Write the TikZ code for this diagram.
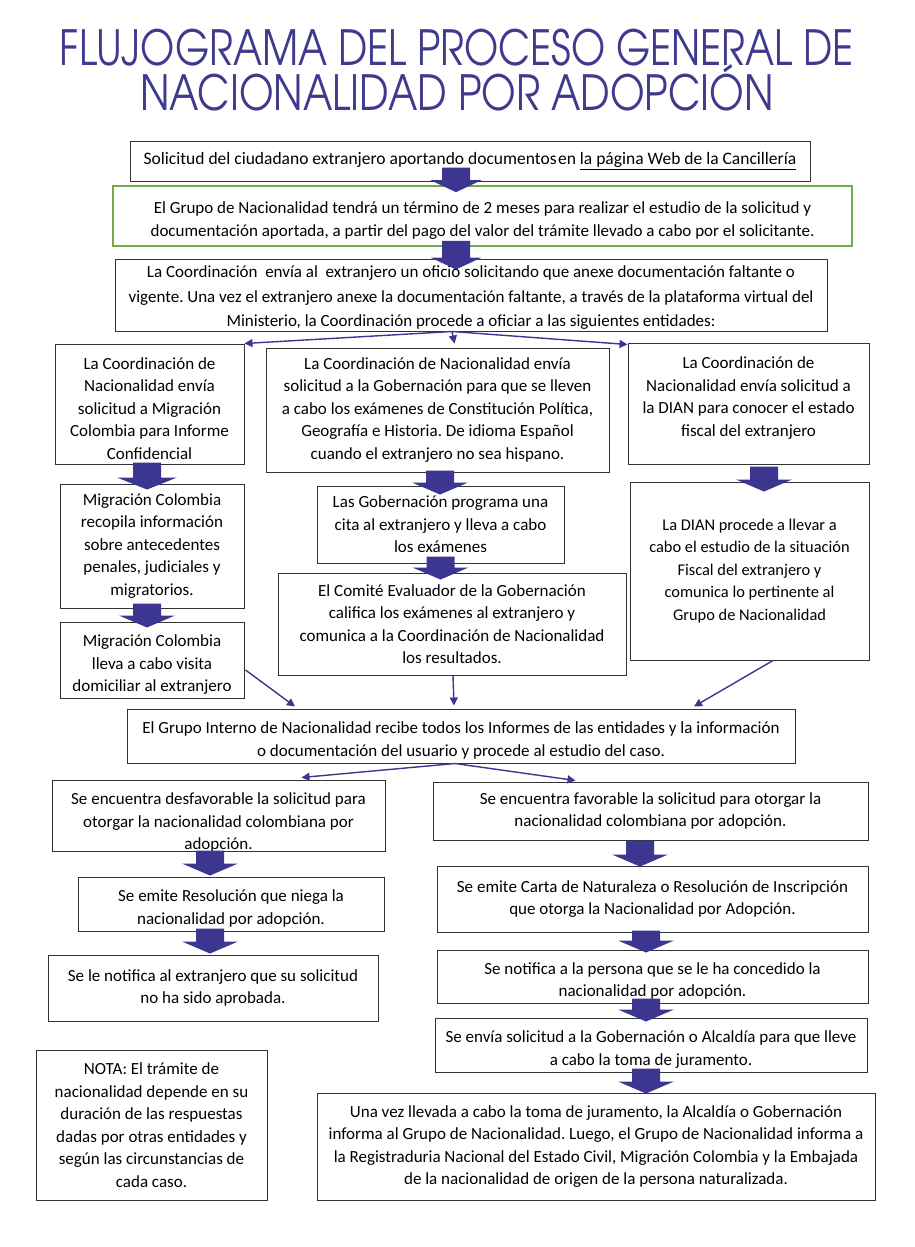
\documentclass[tikz,border=0pt]{standalone}
\usepackage{fontspec}
\setmainfont{Carlito}
\newfontfamily\titlefont{TeX Gyre Adventor}
\usetikzlibrary{arrows.meta,calc}
\frenchspacing
\definecolor{ink}{RGB}{61,54,144}
\definecolor{titlecol}{RGB}{64,58,142}
\definecolor{grn}{RGB}{112,173,71}
\newcommand\bigarr[3][27]{\fill[ink] let \p1=(#2), \p2=(#3) in
  (\x1-14pt,\y1) -- (\x1+14pt,\y1) -- (\x1+14pt,\y2+12pt) -- (\x1+#1pt,\y2+12pt) --
  (\x1,\y2) -- (\x1-#1pt,\y2+12pt) -- (\x1-14pt,\y2+12pt) -- cycle;}
% pushes a node's text down (first-line strut) or up (last-line strut)
\newcommand\dn{\rule{0pt}{21pt}}
\newcommand\up{\rule[-14pt]{0pt}{14pt}}
\begin{document}
\begin{tikzpicture}[x=1pt,y=-1pt,
  box/.style={draw=black!80, line width=1pt, align=center, inner sep=0pt,
    font=\fontsize{17}{22.5}\selectfont},
  txt/.style={align=center, inner sep=0pt, font=\fontsize{17}{22.5}\selectfont},
  thin/.style={draw=ink, line width=1.4pt, -{Triangle[length=8pt,width=8pt]}},
  title/.style={anchor=base, inner sep=0pt, text=titlecol, font=\titlefont\fontsize{48.5}{55}\selectfont}]
\useasboundingbox[fill=white] (0,0) rectangle (915,1247);

\node[title] (t1) at (457,66) {\scalebox{0.81}[1]{FLUJOGRAMA DEL PROCESO GENERAL DE}};
\node[title] (t2) at (457,110) {\scalebox{0.82}[1]{NACIONALIDAD POR ADOPCIÓN}};

\node[box, font=\fontsize{17.5}{22.5}\selectfont, minimum width=680pt, minimum height=40pt] (b1) at (470,161)
  {Solicitud del ciudadano extranjero aportando documentos\hspace{1.5pt}en \underline{la página Web de la Cancillería}};
\node[box, draw=grn, line width=1.6pt, minimum width=739pt, minimum height=60pt] (b2) at (482.5,216)
  {\dn El Grupo de Nacionalidad tendrá un término de 2 meses para realizar el estudio de la solicitud y\\
   documentación aportada, a partir del pago del valor del trámite llevado a cabo por el solicitante.};
\node[box, minimum width=712pt, minimum height=72pt] (b3) at (471,295) {};
\begin{scope}
\clip (b3.south west) rectangle (b3.north east);
\node[txt, font=\fontsize{17}{24.5}\selectfont] (b3t) at ([yshift=-3pt]b3.center)
  {La Coordinación\ \ envía al\ \ extranjero un oficio solicitando que anexe documentación faltante o\\
   vigente. Una vez el extranjero anexe la documentación faltante, a través de la plataforma virtual del\\
   Ministerio, la Coordinación procede a oficiar a las siguientes entidades:};
\end{scope}

\node[box, minimum width=189pt, minimum height=120pt] (bA) at (149.5,404)
  {\dn La Coordinación de\\ Nacionalidad envía\\ solicitud a Migración\\ Colombia para Informe\\ Confidencial};
\node[box, minimum width=343pt, minimum height=124pt] (bB) at (437.5,410)
  {La Coordinación de Nacionalidad envía\\ solicitud a la Gobernación para que se lleven\\ a cabo los exámenes de Constitución Política,\\ Geografía e Historia. De idioma Español\\ cuando el extranjero no sea hispano.};
\node[box, minimum width=241pt, minimum height=121pt] (bC) at (748.5,403.5)
  {La Coordinación de\\ Nacionalidad envía solicitud a\\ la DIAN para conocer el estado\\ fiscal del extranjero\up};

\node[box, minimum width=184pt, minimum height=124pt] (bA2) at (152,546)
  {Migración Colombia\\ recopila información\\ sobre antecedentes\\ penales, judiciales y\\ migratorios.};
\node[box, minimum width=184pt, minimum height=76pt] (bA3) at (152,660)
  {\dn Migración Colombia\\ lleva a cabo visita\\ domiciliar al extranjero};
\node[box, minimum width=247pt, minimum height=77pt] (bB2) at (440.5,524.5)
  {Las Gobernación programa una\\ cita al extranjero y lleva a cabo\\ los exámenes};
\node[box, minimum width=348pt, minimum height=102pt] (bB3) at (452,624)
  {El Comité Evaluador de la Gobernación\\ califica los exámenes al extranjero y\\ comunica a la Coordinación de Nacionalidad\\ los resultados.};
\node[box, font=\fontsize{16.4}{22.5}\selectfont, minimum width=239pt, minimum height=178pt] (bC2) at (749.5,571)
  {La DIAN procede a llevar a\\ cabo el estudio de la situación\\ Fiscal del extranjero y\\ comunica lo pertinente al\\ Grupo de Nacionalidad};

\node[box, minimum width=668pt, minimum height=54pt] (bD) at (461,736)
  {\dn El Grupo Interno de Nacionalidad recibe todos los Informes de las entidades y la información\\ o documentación del usuario y procede al estudio del caso.};

\node[box, minimum width=333pt, minimum height=71pt] (bE) at (218.5,815.5) {};
\begin{scope}
\clip (bE.south west) rectangle (bE.north east);
\node[txt] (bEt) at ([yshift=-7pt]bE.center)
  {Se encuentra desfavorable la solicitud para\\ otorgar la nacionalidad colombiana por\\ adopción.};
\end{scope}
\node[box, minimum width=435pt, minimum height=58pt] (bF) at (650.5,811)
  {Se encuentra favorable la solicitud para otorgar la\\ nacionalidad colombiana por adopción.};

\node[box, minimum width=306pt, minimum height=54pt] (bE2) at (231,904)
  {\dn Se emite Resolución que niega la\\ nacionalidad por adopción.};
\node[box, minimum width=330pt, minimum height=66pt] (bE3) at (213,988)
  {Se le notifica al extranjero que su solicitud\\ no ha sido aprobada.};
\node[box, minimum width=431pt, minimum height=66pt] (bF2) at (652.5,899)
  {Se emite Carta de Naturaleza o Resolución de Inscripción\\ que otorga la Nacionalidad por Adopción.};
\node[box, minimum width=431pt, minimum height=53pt] (bF3) at (652.5,976.5)
  {\dn Se notifica a la persona que se le ha concedido la\\ nacionalidad por adopción.};
\node[box, minimum width=432pt, minimum height=54pt] (bF4) at (651,1045)
  {\dn Se envía solicitud a la Gobernación o Alcaldía para que lleve\\ a cabo la toma de juramento.};
\node[box, minimum width=558pt, minimum height=107pt] (bF5) at (596,1146.5)
  {Una vez llevada a cabo la toma de juramento, la Alcaldía o Gobernación\\ informa al Grupo de Nacionalidad. Luego, el Grupo de Nacionalidad informa a\\ la Registraduria Nacional del Estado Civil, Migración Colombia y la Embajada\\ de la nacionalidad de origen de la persona naturalizada.};
\node[box, minimum width=231pt, minimum height=150pt] (bN) at (151.5,1125)
  {NOTA: El trámite de\\ nacionalidad depende en su\\ duración de las respuestas\\ dadas por otras entidades y\\ según las circunstancias de\\ cada caso.};

% block arrows
\bigarr[25.5]{[xshift=-14pt,yshift=14pt]b1.south}{[yshift=-7pt]b2.north}
\bigarr[25.5]{[xshift=-26.5pt,yshift=6pt]b2.south}{[yshift=-11pt]b3.north}
\bigarr[30]{[xshift=-2.5pt,yshift=2pt]bA.south}{[yshift=-6pt]bA2.north}
\bigarr[28]{[xshift=-5pt,yshift=5pt]bA2.south}{[yshift=-6pt]bA3.north}
\bigarr[28]{[xshift=2.5pt,yshift=2pt]bB.south}{[yshift=-9pt]bB2.north}
\bigarr[28]{[yshift=7pt]bB2.south}{[yshift=-7pt]bB3.north}
\bigarr[28]{[xshift=15.5pt,yshift=-2pt]bC.south}{[yshift=-10pt]bC2.north}
\bigarr[28]{[xshift=-8.5pt,yshift=1pt]bE.south}{[yshift=1pt]bE2.north}
\bigarr[28]{[xshift=-21pt,yshift=3pt]bE2.south}{[yshift=1pt]bE3.north}
\bigarr[28]{[xshift=-10.5pt]bF.south}{[yshift=-1pt]bF2.north}
\bigarr[28]{[xshift=-6.5pt,yshift=2pt]bF2.south}{[yshift=-3pt]bF3.north}
\bigarr[28]{[xshift=-6.5pt,yshift=5pt]bF3.south}{[yshift=-4pt]bF4.north}
\bigarr[28]{[xshift=-5pt,yshift=4pt]bF4.south}{[yshift=-1pt]bF5.north}

% thin connectors
\draw[thin] ([xshift=-19pt]b3.south) -- (bA.north east);
\draw[thin] ([xshift=-19pt]b3.south) -- ([xshift=17pt,yshift=4pt]bB.north);
\draw[thin] ([xshift=-19pt]b3.south) -- ([yshift=-2pt]bC.north west);
\draw[thin] ([xshift=1pt,yshift=-10pt]bA3.east) -- ([xshift=-166pt,yshift=2pt]bD.north);
\draw[thin] ([xshift=1pt]bB3.south) -- ([xshift=-7pt,yshift=3pt]bD.north);
\draw[thin] ([xshift=23.5pt]bC2.south) -- ([xshift=233pt,yshift=2pt]bD.north);
\draw[thin] ([xshift=-6pt]bD.south) -- ([xshift=83pt,yshift=2pt]bE.north);
\draw[thin] ([xshift=-6pt]bD.south) -- ([xshift=-75pt,yshift=1pt]bF.north);
\end{tikzpicture}
\end{document}
